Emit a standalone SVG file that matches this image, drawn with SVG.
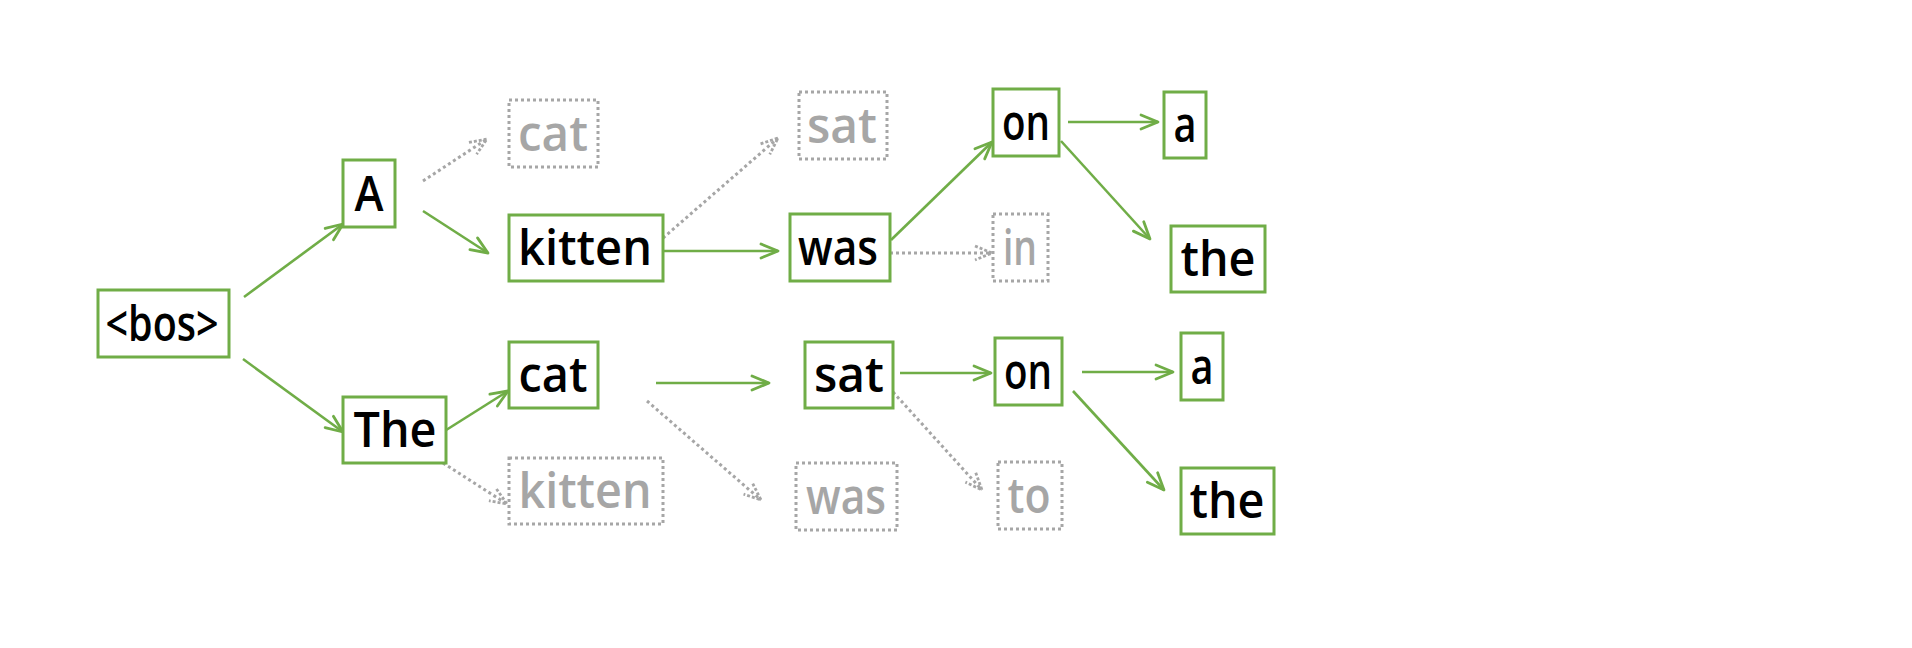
<svg xmlns="http://www.w3.org/2000/svg" width="1912" height="648" viewBox="0 0 1912 648">
<style>
.g rect{fill:#fff;stroke:#70ad47;stroke-width:3}
.d rect{fill:#fff;stroke:#a6a6a6;stroke-width:3;stroke-dasharray:3 3}
text{font-family:"Comic Sans MS","Open Sans",sans-serif;font-size:48px;font-weight:600;text-anchor:middle}
.g text{fill:#000}
.d text{fill:#a6a6a6}
.cg{stroke:#70ad47;stroke-width:2.6;fill:none;marker-end:url(#ag)}
.cd{stroke:#a6a6a6;stroke-width:3;fill:none;stroke-dasharray:3 3;marker-end:url(#ad)}
</style>
<defs>
<marker id="ag" markerUnits="userSpaceOnUse" markerWidth="22" markerHeight="18" viewBox="0 0 22 18" refX="19" refY="9" orient="auto">
<path d="M2,2 L19,9 L2,16" fill="none" stroke="#70ad47" stroke-width="2.8" stroke-linecap="round" stroke-linejoin="round"/>
</marker>
<marker id="ad" markerUnits="userSpaceOnUse" markerWidth="22" markerHeight="18" viewBox="0 0 22 18" refX="19" refY="9" orient="auto">
<path d="M2,2 L19,9 L2,16" fill="none" stroke="#a6a6a6" stroke-width="2.8" stroke-dasharray="3 2"/>
</marker>
</defs>
<rect width="1912" height="648" fill="#fff"/>
<g id="connectors">
<line class="cg" x1="244" y1="297" x2="343" y2="224"/>
<line class="cg" x1="243" y1="359" x2="343" y2="432"/>
<line class="cg" x1="423" y1="211" x2="488" y2="253"/>
<line class="cg" x1="443" y1="432" x2="508" y2="391"/>
<line class="cg" x1="663" y1="251" x2="778" y2="251"/>
<line class="cg" x1="891" y1="240" x2="992" y2="142"/>
<line class="cg" x1="1068" y1="122" x2="1158" y2="122"/>
<line class="cg" x1="1061" y1="141" x2="1150" y2="239"/>
<line class="cg" x1="656" y1="383" x2="769" y2="383"/>
<line class="cg" x1="900" y1="373" x2="991" y2="373"/>
<line class="cg" x1="1082" y1="372" x2="1173" y2="372"/>
<line class="cg" x1="1073" y1="391" x2="1164" y2="490"/>
<line class="cd" x1="423" y1="181" x2="487" y2="139"/>
<line class="cd" x1="443" y1="463" x2="507" y2="504"/>
<line class="cd" x1="663" y1="238" x2="778" y2="138"/>
<line class="cd" x1="890" y1="253" x2="992" y2="253"/>
<line class="cd" x1="647" y1="401" x2="761" y2="500"/>
<line class="cd" x1="893" y1="392" x2="982" y2="490"/>
</g>
<g id="n-bos" class="g"><rect x="98" y="290" width="131" height="67"/><text x="162" y="340.5" textLength="113" lengthAdjust="spacingAndGlyphs">&lt;bos&gt;</text></g>
<g id="n-A" class="g"><rect x="343" y="160" width="52" height="67"/><text x="369" y="210.5" textLength="29" lengthAdjust="spacingAndGlyphs">A</text></g>
<g id="n-The" class="g"><rect x="343" y="397" width="103" height="66"/><text x="395" y="447" textLength="83" lengthAdjust="spacingAndGlyphs">The</text></g>
<g id="n-cat-gray" class="d"><rect x="509" y="100" width="89" height="67"/><text x="553" y="150.5" textLength="70" lengthAdjust="spacingAndGlyphs">cat</text></g>
<g id="n-kitten" class="g"><rect x="509" y="215" width="154" height="66"/><text x="585" y="265" textLength="134" lengthAdjust="spacingAndGlyphs">kitten</text></g>
<g id="n-cat" class="g"><rect x="509" y="342" width="89" height="66"/><text x="553" y="392" textLength="69" lengthAdjust="spacingAndGlyphs">cat</text></g>
<g id="n-kitten-gray" class="d"><rect x="509" y="458" width="154" height="66"/><text x="585" y="508" textLength="133" lengthAdjust="spacingAndGlyphs">kitten</text></g>
<g id="n-sat-gray" class="d"><rect x="799" y="92" width="88" height="67"/><text x="842" y="142.5" textLength="70" lengthAdjust="spacingAndGlyphs">sat</text></g>
<g id="n-was" class="g"><rect x="790" y="214" width="100" height="67"/><text x="838" y="264.5" textLength="80" lengthAdjust="spacingAndGlyphs">was</text></g>
<g id="n-sat" class="g"><rect x="805" y="342" width="88" height="66"/><text x="849" y="392" textLength="70" lengthAdjust="spacingAndGlyphs">sat</text></g>
<g id="n-was-gray" class="d"><rect x="796" y="463" width="101" height="67"/><text x="846" y="513.5" textLength="80" lengthAdjust="spacingAndGlyphs">was</text></g>
<g id="n-on-top" class="g"><rect x="993" y="89" width="66" height="67"/><text x="1026" y="139.5" textLength="48" lengthAdjust="spacingAndGlyphs">on</text></g>
<g id="n-in-gray" class="d"><rect x="993" y="214" width="55" height="67"/><text x="1020" y="264.5" textLength="34" lengthAdjust="spacingAndGlyphs">in</text></g>
<g id="n-on-bottom" class="g"><rect x="995" y="338" width="67" height="67"/><text x="1028" y="388.5" textLength="48" lengthAdjust="spacingAndGlyphs">on</text></g>
<g id="n-to-gray" class="d"><rect x="998" y="462" width="64" height="67"/><text x="1029" y="512.5" textLength="43" lengthAdjust="spacingAndGlyphs">to</text></g>
<g id="n-a-top" class="g"><rect x="1164" y="92" width="42" height="66"/><text x="1185" y="142" textLength="23" lengthAdjust="spacingAndGlyphs">a</text></g>
<g id="n-the-top" class="g"><rect x="1171" y="226" width="94" height="66"/><text x="1218" y="276" textLength="75" lengthAdjust="spacingAndGlyphs">the</text></g>
<g id="n-a-bottom" class="g"><rect x="1181" y="333" width="42" height="67"/><text x="1202" y="383.5" textLength="23" lengthAdjust="spacingAndGlyphs">a</text></g>
<g id="n-the-bottom" class="g"><rect x="1181" y="468" width="93" height="66"/><text x="1227" y="518" textLength="75" lengthAdjust="spacingAndGlyphs">the</text></g>
</svg>
